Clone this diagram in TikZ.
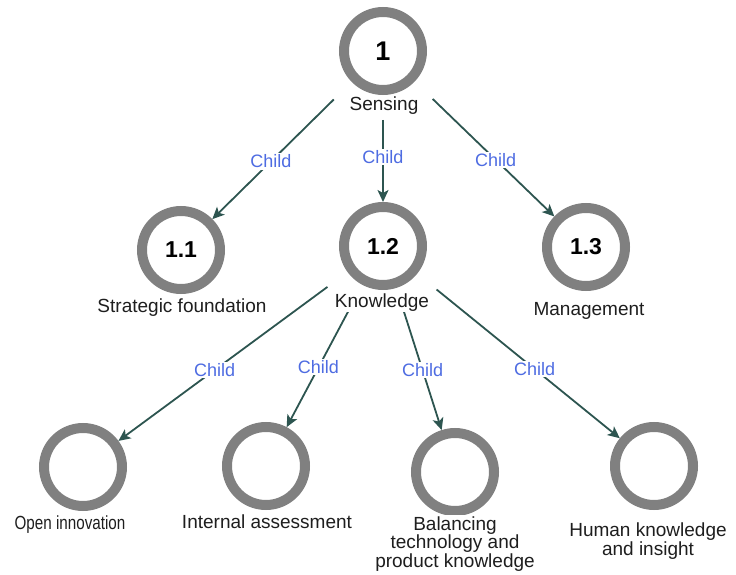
\documentclass[tikz,border=0pt]{standalone}
\usepackage{fontspec}
\setmainfont{Liberation Sans}
\usetikzlibrary{arrows.meta}
\definecolor{ringgray}{RGB}{128,128,128}
\definecolor{edgegreen}{RGB}{45,85,80}
\definecolor{childblue}{RGB}{78,108,226}
\definecolor{captext}{RGB}{30,30,30}

\begin{document}
\begin{tikzpicture}[x=1pt,y=-1pt,
	ring/.style={circle,draw=ringgray,line width=10pt,minimum size=78pt,inner sep=0pt,
		font=\fontsize{23}{26}\selectfont\bfseries},
	caption/.style={fill=white,inner sep=1pt,text=captext,align=center,anchor=base,
		font=\fontsize{19}{18.5}\selectfont},
	link/.style={draw=edgegreen,line width=1.8pt,-{Stealth[length=12pt,width=11pt,inset=3pt]},
		shorten <=25pt},
	childlbl/.style={pos=0.58,fill=white,inner sep=1.5pt,text=childblue,
		font=\fontsize{18}{20}\selectfont}]
				\useasboundingbox (0,0) rectangle (736,575);
				\node[ring,font=\fontsize{27}{30}\selectfont\bfseries] (n1) at (383,51) {1};
				\node[ring] (n11) at (181,250) {1.1};
				\node[ring] (n12) at (383,246) {1.2};
				\node[ring] (n13) at (586,247) {1.3};
				\node[ring] (n121) at (83,467) {};
				\node[ring] (n122) at (266,466) {};
				\node[ring] (n123) at (455,472) {};
				\node[ring] (n124) at (654,466) {};
				\draw[link] (n1) -- node[childlbl]{Child} (n11);
				\draw[link] (n1) -- node[childlbl]{Child} (n12);
				\draw[link] (n1) -- node[childlbl]{Child} (n13);
				\draw[link] (n12) -- node[childlbl]{Child} (n121);
				\draw[link] (n12) -- node[childlbl]{Child} (n122);
				\draw[link] (n12) -- node[childlbl]{Child} (n123);
				\draw[link] (n12) -- node[childlbl]{Child} (n124);
				\node[caption] (l1) at (384,111) {Sensing};
				\node[caption] (l11) at (182,312) {Strategic foundation};
				\node[caption] (l12) at (382,307) {Knowledge};
				\node[caption] (l13) at (589,315) {Management};
				\node[caption] (l121) at (70,529) {\scalebox{0.8}[1]{Open innovation}};
				\node[caption] (l122) at (267,528) {Internal assessment};
				\node[caption] (l123) at (455,567) {Balancing\\technology and\\product knowledge};
				\node[caption] (l124) at (648,555) {Human knowledge\\and insight};
			\end{tikzpicture}
\end{document}
